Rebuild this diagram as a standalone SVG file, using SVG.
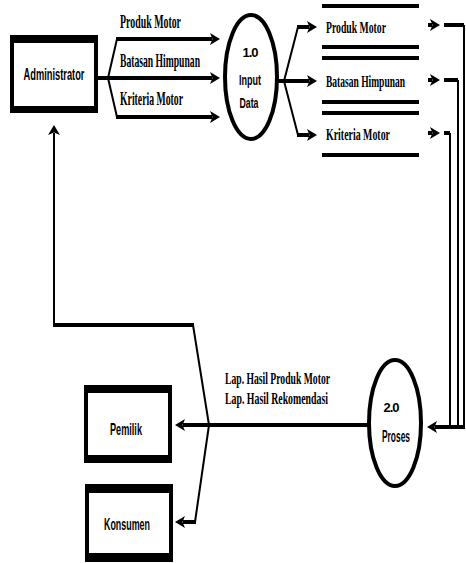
<svg xmlns="http://www.w3.org/2000/svg" width="466" height="563" viewBox="0 0 466 563">
<style>
.bg{fill:#fff}
.box{fill:#000}
.inner{fill:#fff}
.proc{fill:#fff;stroke:#000;stroke-width:4}
.store{stroke:#000;stroke-width:4}
.thick{fill:none;stroke:#000;stroke-width:4}
.thin{fill:none;stroke:#000;stroke-width:2}
.sans{font-family:"Liberation Sans",Arial,sans-serif;font-weight:bold;fill:#000;text-anchor:middle}
.serif{font-family:"Liberation Serif","Times New Roman",serif;font-weight:bold;fill:#000}
</style>
<defs>
<marker id="ah" markerUnits="userSpaceOnUse" markerWidth="10" markerHeight="12" viewBox="0 0 10 12" refX="2" refY="6" orient="auto">
<path d="M0,0 L10,6 L0,12 L2.5,6 Z" fill="#000"/>
</marker>
</defs>
<rect class="bg" x="0" y="0" width="466" height="563"/>

<g id="administrator">
<rect class="box" x="10" y="35" width="88" height="78"/>
<rect class="inner" x="14" y="43" width="80" height="63"/>
<text class="sans" x="54" y="80" font-size="17" textLength="61" lengthAdjust="spacingAndGlyphs">Administrator</text>
</g>

<g id="pemilik">
<rect class="box" x="84" y="385" width="88" height="78"/>
<rect class="inner" x="88" y="393" width="80" height="62"/>
<text class="sans" x="126" y="435" font-size="17" textLength="32" lengthAdjust="spacingAndGlyphs">Pemilik</text>
</g>

<g id="konsumen">
<rect class="box" x="85" y="484" width="88" height="78"/>
<rect class="inner" x="89" y="493" width="80" height="60"/>
<text class="sans" x="127" y="530" font-size="17" textLength="46" lengthAdjust="spacingAndGlyphs">Konsumen</text>
</g>

<g id="proses-1">
<ellipse class="proc" cx="251" cy="77" rx="26" ry="62"/>
<text class="sans" x="250" y="57" font-size="13" letter-spacing="-1">1.0</text>
<text class="sans" x="250" y="85" font-size="15" textLength="22" lengthAdjust="spacingAndGlyphs">Input</text>
<text class="sans" x="249" y="108" font-size="15" textLength="19" lengthAdjust="spacingAndGlyphs">Data</text>
</g>

<g id="proses-2">
<ellipse class="proc" cx="395" cy="423" rx="26" ry="63"/>
<text class="sans" x="391" y="412" font-size="13" letter-spacing="-1">2.0</text>
<text class="sans" x="396" y="442" font-size="16" textLength="28" lengthAdjust="spacingAndGlyphs">Proses</text>
</g>

<g id="store-produk">
<line class="store" x1="322" y1="6" x2="419" y2="6"/>
<line class="store" x1="322" y1="47" x2="419" y2="47"/>
<text class="serif" x="326" y="33" font-size="17" textLength="60" lengthAdjust="spacingAndGlyphs">Produk Motor</text>
</g>
<g id="store-batasan">
<line class="store" x1="322" y1="58" x2="419" y2="58"/>
<line class="store" x1="322" y1="102" x2="419" y2="102"/>
<text class="serif" x="326" y="87" font-size="17" textLength="79" lengthAdjust="spacingAndGlyphs">Batasan Himpunan</text>
</g>
<g id="store-kriteria">
<line class="store" x1="322" y1="113" x2="419" y2="113"/>
<line class="store" x1="322" y1="155" x2="419" y2="155"/>
<text class="serif" x="326" y="140" font-size="17" textLength="64" lengthAdjust="spacingAndGlyphs">Kriteria Motor</text>
</g>

<g id="connectors">
<!-- Administrator to 1.0 -->
<path class="thick" d="M98,78 H212" marker-end="url(#ah)"/>
<path class="thin" d="M108,78 L117,39"/>
<path class="thick" d="M116,39 H212" marker-end="url(#ah)"/>
<path class="thin" d="M108,78 L117,117"/>
<path class="thick" d="M116,117 H212" marker-end="url(#ah)"/>
<text class="serif" x="120" y="28" font-size="19" textLength="61" lengthAdjust="spacingAndGlyphs">Produk Motor</text>
<text class="serif" x="120" y="67" font-size="19" textLength="80" lengthAdjust="spacingAndGlyphs">Batasan Himpunan</text>
<text class="serif" x="120" y="105" font-size="19" textLength="63" lengthAdjust="spacingAndGlyphs">Kriteria Motor</text>

<!-- 1.0 to stores -->
<path class="thick" d="M277,81 H309" marker-end="url(#ah)"/>
<path class="thin" d="M284,81 L298,27"/>
<path class="thick" d="M297,27 H309" marker-end="url(#ah)"/>
<path class="thin" d="M284,81 L298,135"/>
<path class="thick" d="M297,135 H309" marker-end="url(#ah)"/>

<!-- stores to 2.0 -->
<path class="thick" d="M428,25 H432" marker-end="url(#ah)"/>
<path class="thick" d="M428,80 H432" marker-end="url(#ah)"/>
<path class="thick" d="M428,133 H432" marker-end="url(#ah)"/>
<path class="thick" d="M444,25 H464"/>
<path class="thin" d="M464,25 V427"/>
<path class="thick" d="M444,80 H458"/>
<path class="thin" d="M458,80 V427"/>
<path class="thick" d="M444,133 H450"/>
<path class="thin" d="M450,133 V427"/>
<path class="thick" d="M465,427 H435" marker-end="url(#ah)"/>

<!-- 2.0 outputs -->
<path class="thick" d="M369,425 H183" marker-end="url(#ah)"/>
<path class="thin" d="M209,425 L195,522"/>
<path class="thick" d="M196,522 H183" marker-end="url(#ah)"/>
<path class="thin" d="M209,425 L193,325"/>
<path class="thick" d="M194,325 H54"/>
<path class="thin" d="M54,327 V133" marker-end="url(#ah)"/>
<text class="serif" x="225" y="384" font-size="16" textLength="105" lengthAdjust="spacingAndGlyphs">Lap. Hasil Produk Motor</text>
<text class="serif" x="225" y="404" font-size="16" textLength="103" lengthAdjust="spacingAndGlyphs">Lap. Hasil Rekomendasi</text>
</g>
</svg>
